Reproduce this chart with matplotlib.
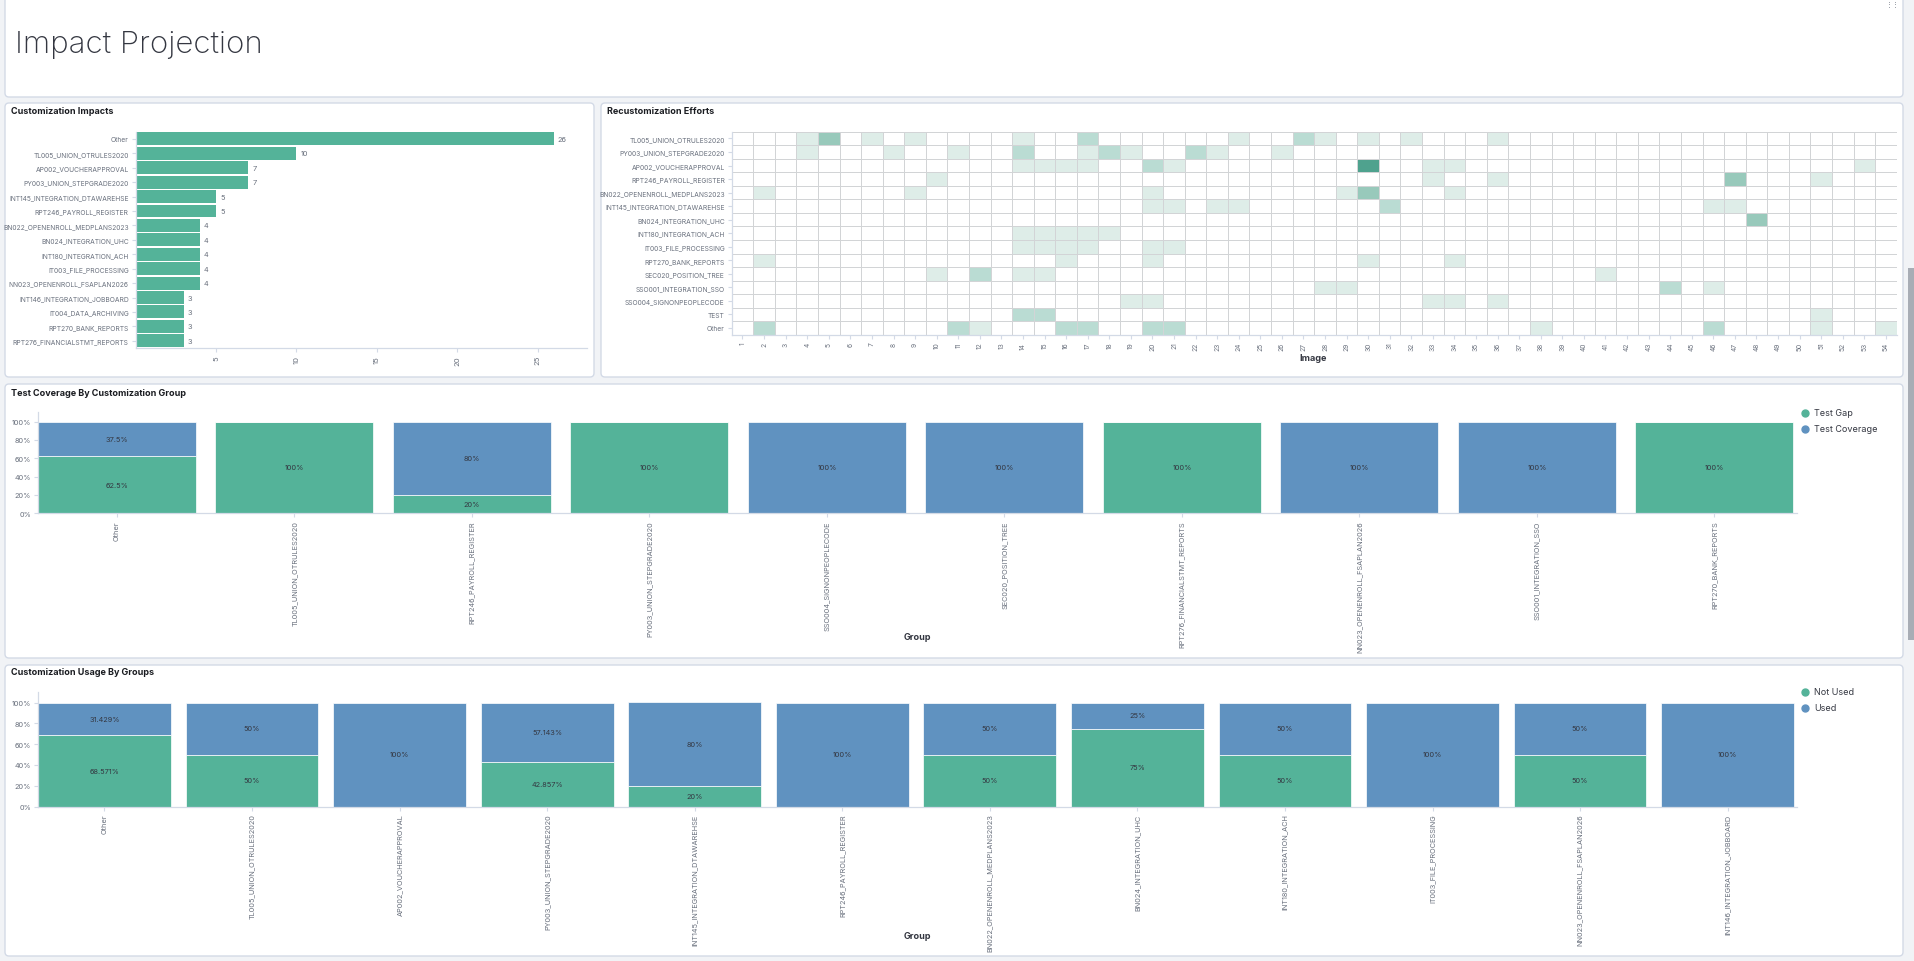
import numpy as np
import matplotlib
matplotlib.use("Agg")
import matplotlib.pyplot as plt
from matplotlib.patches import Rectangle, FancyBboxPatch
from matplotlib.colors import ListedColormap, BoundaryNorm

plt.rcParams['font.family'] = ['Inter', 'DejaVu Sans']

W, H = 1915, 962
GREEN = '#54b399'
BLUE = '#6092c0'
LABEL = '#69707d'
DARK = '#343741'
AXIS = '#d3dae6'

# Customization Impacts
impact_names = ['Other', 'TL005_UNION_OTRULES2020', 'AP002_VOUCHERAPPROVAL',
                'PY003_UNION_STEPGRADE2020', 'INT145_INTEGRATION_DTAWAREHSE',
                'RPT246_PAYROLL_REGISTER', 'BN022_OPENENROLL_MEDPLANS2023',
                'BN024_INTEGRATION_UHC', 'INT180_INTEGRATION_ACH', 'IT003_FILE_PROCESSING',
                'NN023_OPENENROLL_FSAPLAN2026', 'INT146_INTEGRATION_JOBBOARD',
                'IT004_DATA_ARCHIVING', 'RPT270_BANK_REPORTS', 'RPT276_FINANCIALSTMT_REPORTS']
impact_counts = [26, 10, 7, 7, 5, 5, 4, 4, 4, 4, 4, 3, 3, 3, 3]

# Recustomization Efforts (level per image, rows stop where the data stops)
effort_rows = ['TL005_UNION_OTRULES2020', 'PY003_UNION_STEPGRADE2020', 'AP002_VOUCHERAPPROVAL',
               'RPT246_PAYROLL_REGISTER', 'BN022_OPENENROLL_MEDPLANS2023',
               'INT145_INTEGRATION_DTAWAREHSE', 'BN024_INTEGRATION_UHC', 'INT180_INTEGRATION_ACH',
               'IT003_FILE_PROCESSING', 'RPT270_BANK_REPORTS', 'SEC020_POSITION_TREE',
               'SSO001_INTEGRATION_SSO', 'SSO004_SIGNONPEOPLECODE', 'TEST', 'Other']
effort_last_image = [36, 26, 53, 51, 34, 47, 48, 18, 21, 34, 41, 46, 36, 51, 54]
effort_cells = [
    {4: 1, 5: 3, 7: 1, 9: 1, 14: 1, 17: 2, 24: 1, 27: 2, 28: 1, 30: 1, 32: 1, 36: 1},
    {4: 1, 8: 1, 11: 1, 14: 2, 17: 1, 18: 2, 19: 1, 22: 2, 23: 1, 26: 1},
    {14: 1, 15: 1, 16: 1, 17: 1, 20: 2, 21: 1, 30: 4, 33: 1, 34: 1, 53: 1},
    {10: 1, 33: 1, 36: 1, 47: 3, 51: 1},
    {2: 1, 9: 1, 20: 1, 29: 1, 30: 3, 34: 1},
    {20: 1, 21: 1, 23: 1, 24: 1, 31: 2, 46: 1, 47: 1},
    {48: 3},
    {14: 1, 15: 1, 16: 1, 17: 1, 18: 1},
    {14: 1, 15: 1, 16: 1, 17: 1, 20: 1, 21: 1},
    {2: 1, 16: 1, 20: 1, 30: 1, 34: 1},
    {10: 1, 12: 2, 14: 1, 15: 1, 41: 1},
    {28: 1, 29: 1, 44: 2, 46: 1},
    {19: 1, 20: 1, 33: 1, 34: 1, 36: 1},
    {14: 2, 15: 2, 51: 1},
    {2: 2, 11: 2, 12: 1, 16: 2, 17: 2, 20: 2, 21: 2, 38: 1, 46: 2, 51: 1, 54: 1},
]
n_images = 54

# Test Coverage By Customization Group (percent)
cov_groups = ['Other', 'TL005_UNION_OTRULES2020', 'RPT246_PAYROLL_REGISTER',
              'PY003_UNION_STEPGRADE2020', 'SSO004_SIGNONPEOPLECODE', 'SEC020_POSITION_TREE',
              'RPT276_FINANCIALSTMT_REPORTS', 'NN023_OPENENROLL_FSAPLAN2026',
              'SSO001_INTEGRATION_SSO', 'RPT270_BANK_REPORTS']
cov_gap = [62.5, 100, 20, 100, 0, 0, 100, 0, 0, 100]
cov_covered = [37.5, 0, 80, 0, 100, 100, 0, 100, 100, 0]

# Customization Usage By Groups (percent)
use_groups = ['Other', 'TL005_UNION_OTRULES2020', 'AP002_VOUCHERAPPROVAL',
              'PY003_UNION_STEPGRADE2020', 'INT145_INTEGRATION_DTAWAREHSE',
              'RPT246_PAYROLL_REGISTER', 'BN022_OPENENROLL_MEDPLANS2023',
              'BN024_INTEGRATION_UHC', 'INT180_INTEGRATION_ACH', 'IT003_FILE_PROCESSING',
              'NN023_OPENENROLL_FSAPLAN2026', 'INT146_INTEGRATION_JOBBOARD']
use_not_used = [68.571, 50, 0, 42.857, 20, 0, 50, 75, 50, 0, 50, 0]
use_used = [31.429, 50, 100, 57.143, 80, 100, 50, 25, 50, 100, 50, 100]


fig = plt.figure(figsize=(W / 100, H / 100), dpi=100)
fig.patch.set_facecolor('#f1f3f6')

bg = fig.add_axes([0, 0, 1, 1])
bg.set_xlim(0, W)
bg.set_ylim(H, 0)
bg.axis('off')


def panel(l, t, r, b):
    bg.add_patch(FancyBboxPatch((l, t), r - l, b - t, boxstyle='round,pad=0,rounding_size=4',
                                fc='white', ec='#d3dae6', lw=1))


def add_ax(l, t, r, b):
    ax = fig.add_axes([l / W, 1 - b / H, (r - l) / W, (b - t) / H])
    ax.set_facecolor('none')
    for s in ['top', 'right']:
        ax.spines[s].set_visible(False)
    for s in ['left', 'bottom']:
        ax.spines[s].set_color(AXIS)
        ax.spines[s].set_linewidth(0.9)
    ax.tick_params(colors=AXIS, labelcolor=LABEL, length=3, width=0.8, labelsize=5.5, pad=2)
    return ax


panel(5, -4, 1903, 98)
panel(5, 104, 594, 378)
panel(601, 104, 1903, 378)
panel(5, 385, 1903, 659)
panel(5, 666, 1903, 957)

bg.text(15, 45, 'Impact Projection', fontsize=22.5, fontweight='light', color='#343741', va='center')
bg.text(1893, 4, '\u22ee\u22ee', fontsize=5, color='#69707d', va='center', ha='center')
bg.add_patch(Rectangle((1908, 269), 6, 372, fc='#a8adb5', ec='none'))

for x, y, s in [(11, 112, 'Customization Impacts'), (607, 112, 'Recustomization Efforts'),
                (11, 394, 'Test Coverage By Customization Group'),
                (11, 673, 'Customization Usage By Groups')]:
    bg.text(x, y, s, fontsize=6.5, fontweight='bold', color='#1a1c21', va='center')

# --- Customization Impacts
ax1 = add_ax(135.6, 132.7, 587.4, 349)
y = np.arange(len(impact_names))
ax1.barh(y, impact_counts, height=0.9, color=GREEN)
for yi, v in zip(y, impact_counts):
    ax1.text(v + 0.25, yi, str(v), fontsize=5.3, color=LABEL, va='center')
ax1.set_ylim(len(impact_names) - 0.5, -0.5)
ax1.set_xlim(0, 28.1)
ax1.set_yticks(y)
ax1.set_yticklabels(impact_names, fontsize=4.8)
ax1.set_xticks([5, 10, 15, 20, 25])
ax1.tick_params(axis='x', labelrotation=90)

# --- Recustomization Efforts
grid = np.full((len(effort_rows), n_images), np.nan)
for r, (last, cells) in enumerate(zip(effort_last_image, effort_cells)):
    grid[r, :last] = 0
    for img, lvl in cells.items():
        grid[r, img - 1] = lvl
cmap = ListedColormap(['#ffffff', '#deede8', '#badcd3', '#98c9bb', '#4fa28e'])
norm = BoundaryNorm([-0.5, 0.5, 1.5, 2.5, 3.5, 4.5], 5)
ax2 = add_ax(731.7, 132.7, 1896.7, 335.7)
ax2.pcolormesh(np.arange(n_images + 1) + 0.5, np.arange(len(effort_rows) + 1) - 0.5,
               np.ma.masked_invalid(grid), cmap=cmap, norm=norm,
               edgecolors='#d2d4d6', linewidth=0.6)
ax2.set_xlim(0.5, n_images + 0.5)
ax2.set_ylim(len(effort_rows) - 0.5, -0.5)
ax2.set_yticks(np.arange(len(effort_rows)))
ax2.set_yticklabels(effort_rows, fontsize=4.8)
ax2.set_xticks(np.arange(1, n_images + 1))
ax2.tick_params(axis='x', labelrotation=90, labelsize=4.8)
bg.text(1313, 359, 'Image', fontsize=6.5, fontweight='bold', color=DARK, ha='center', va='center')


def stacked(l, t0, r, b, groups, low, high, width):
    per = (b - t0)
    ax = add_ax(l, b - 1.1 * per, r, b)
    x = np.arange(len(groups))
    lo = np.array(low) / 100
    hi = np.array(high) / 100
    ax.bar(x, lo, width=width, color=GREEN, edgecolor='white', linewidth=0.5)
    ax.bar(x, hi, bottom=lo, width=width, color=BLUE, edgecolor='white', linewidth=0.5)
    for xi, a, c in zip(x, low, high):
        if a > 0:
            ax.text(xi, a / 200, '%g%%' % a, fontsize=5.3, color=DARK, ha='center', va='center')
        if c > 0:
            ax.text(xi, a / 100 + c / 200, '%g%%' % c, fontsize=5.3, color=DARK,
                    ha='center', va='center')
    ax.set_xlim(-width / 2, len(groups) - 1 + width / 2 + 0.02)
    ax.set_ylim(0, 1.1)
    ax.set_yticks([0, 0.2, 0.4, 0.6, 0.8, 1.0])
    ax.set_yticklabels(['0%', '20%', '40%', '60%', '80%', '100%'], fontsize=5.3)
    ax.set_xticks(x)
    ax.set_xticklabels(groups, rotation=90, fontsize=5.3)
    return ax


stacked(38, 422.6, 1797, 514.2, cov_groups, cov_gap, cov_covered, 0.89)
stacked(38, 703.5, 1797, 807.5, use_groups, use_not_used, use_used, 0.9)

for yy, lbl, col in [(414, 'Test Gap', GREEN), (430, 'Test Coverage', BLUE),
                     (693, 'Not Used', GREEN), (709, 'Used', BLUE)]:
    bg.plot(1805, yy, 'o', ms=5, color=col)
    bg.text(1814, yy, lbl, fontsize=6.5, color=DARK, va='center')
bg.text(917, 638, 'Group', fontsize=6.5, fontweight='bold', color=DARK, ha='center', va='center')
bg.text(917, 937, 'Group', fontsize=6.5, fontweight='bold', color=DARK, ha='center', va='center')

fig.savefig('out.png', dpi=100, facecolor=fig.get_facecolor())
